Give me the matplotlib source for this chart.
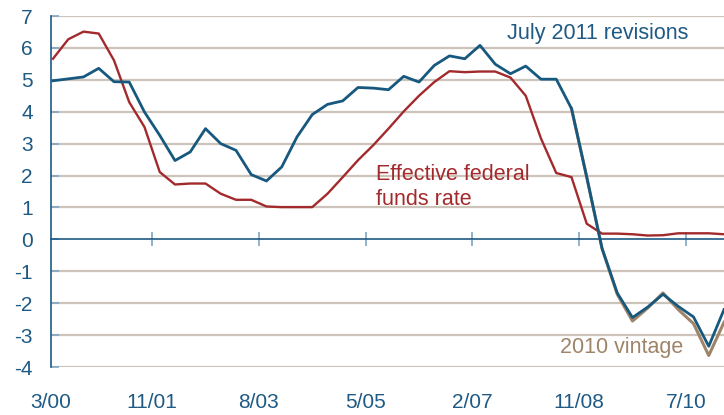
import numpy as np
import matplotlib
matplotlib.use('Agg')
import matplotlib.pyplot as plt

# ── Data (quarterly, Q1 2000 .. Q1 2011) ──────────────────────────────────────
july2011 = [4.97, 5.03, 5.09, 5.36, 4.94, 4.93, 3.99, 3.26, 2.47, 2.74,
            3.47, 3.00, 2.79, 2.03, 1.83, 2.27, 3.21, 3.91, 4.23, 4.34,
            4.76, 4.74, 4.69, 5.11, 4.93, 5.45, 5.75, 5.66, 6.08, 5.49,
            5.19, 5.43, 5.02, 5.02, 4.10, 1.95, -0.28, -1.68, -2.45, -2.12,
            -1.72, -2.10, -2.43, -3.35, -2.20]
vintage2010 = [4.10, 1.95, -0.28, -1.72, -2.56, -2.15, -1.68, -2.20, -2.64, -3.64, -2.60]
vintage_start = 34
fed_funds = [5.66, 6.27, 6.51, 6.45, 5.61, 4.30, 3.52, 2.11, 1.72, 1.75,
             1.75, 1.43, 1.24, 1.24, 1.03, 1.01, 1.01, 1.01, 1.43, 1.95,
             2.48, 2.95, 3.47, 4.01, 4.50, 4.93, 5.27, 5.24, 5.26, 5.26,
             5.07, 4.50, 3.16, 2.08, 1.95, 0.49, 0.18, 0.18, 0.16, 0.12,
             0.13, 0.19, 0.19, 0.19, 0.16]
tick_pos = [6.5, 13.5, 20.5, 27.5, 34.5, 41.5]
tick_labels = ['3/00', '11/01', '8/03', '5/05', '2/07', '11/08', '7/10']

# ── Style ─────────────────────────────────────────────────────────────────────
BLUE   = '#17587E'
TXTBLU = '#1E5A84'
RED    = '#A32A2C'
TAN    = '#9E8468'
GRID   = '#CCC4BA'
plt.rcParams['font.family'] = ['Liberation Sans', 'DejaVu Sans']
plt.rcParams['axes.unicode_minus'] = False

x = np.arange(len(july2011))
xv = np.arange(vintage_start, vintage_start + len(vintage2010))
XMIN = -0.13

fig = plt.figure(figsize=(7.24, 4.15), dpi=100)
ax = fig.add_axes([51 / 724, 48 / 415, 673 / 724, 351 / 415])
ax.set_xlim(XMIN, len(july2011) - 1)
ax.set_ylim(-4, 7)

for v in range(-4, 8):
    if v != 0:
        ax.axhline(v, color=GRID, lw=1.6, zorder=0)

ax.plot(xv, vintage2010, color=TAN, lw=2.2, zorder=2)
ax.plot(x, fed_funds, color=RED, lw=1.7, zorder=3)
ax.plot(x, july2011, color=BLUE, lw=2.0, zorder=4)

# spines: left axis and zero line
for s in ['top', 'right']:
    ax.spines[s].set_visible(False)
ax.spines['left'].set_color(TXTBLU)
ax.spines['left'].set_linewidth(1.2)
ax.spines['bottom'].set_position(('data', 0))
ax.spines['bottom'].set_color(TXTBLU)
ax.spines['bottom'].set_linewidth(1.2)
ax.set_xticks(tick_pos)
ax.tick_params(axis='x', direction='inout', length=10, width=1.2,
               color='#7FA6C2', labelbottom=False)
ax.set_yticks(range(-4, 8))
ax.tick_params(axis='y', direction='in', length=6, width=1.2, color='#7FA6C2',
               labelsize=15, labelcolor=TXTBLU, pad=13)

# bottom date labels
sec = ax.secondary_xaxis(0.0)
sec.set_xticks([XMIN] + tick_pos)
sec.set_xticklabels(tick_labels)
sec.spines['bottom'].set_visible(False)
sec.tick_params(length=0, labelsize=15, labelcolor=TXTBLU, pad=19)

# annotations
ax.text(35.7, 6.46, 'July 2011 revisions', color=TXTBLU, fontsize=15.5,
        ha='center', va='center')
ax.text(21.2, 1.64, 'Effective federal\nfunds rate', color=RED, fontsize=15.5,
        ha='left', va='center', linespacing=1.3)
ax.text(37.3, -3.38, '2010 vintage', color=TAN, fontsize=15.5,
        ha='center', va='center')

fig.savefig('out.png', dpi=100)
